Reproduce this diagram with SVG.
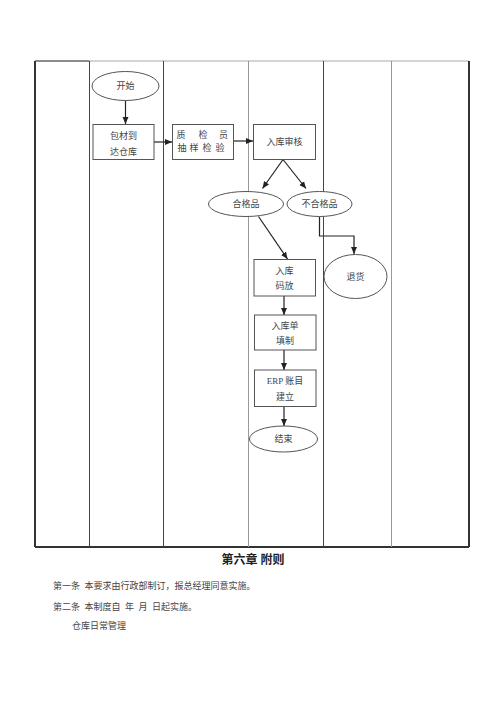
<svg xmlns="http://www.w3.org/2000/svg" width="500" height="707" viewBox="0 0 500 707">
<style>
text{font-family:"Liberation Serif","Noto Sans CJK SC",serif;fill:#444;font-size:9px;text-anchor:middle;dominant-baseline:central}
.node{fill:#fff;stroke:#555;stroke-width:1}
.col{stroke:#444;stroke-width:1}
.colg{stroke:#999;stroke-width:1}
.edge{fill:none;stroke:#222;stroke-width:1.2;marker-end:url(#ah)}
.para{text-anchor:start;font-size:9px;white-space:pre}
</style>
<defs>
<marker id="ah" markerWidth="8" markerHeight="8" refX="7" refY="4" orient="auto" markerUnits="userSpaceOnUse">
<path d="M0,1 L7,4 L0,7 Z" fill="#222"/>
</marker>
</defs>
<rect width="500" height="707" fill="#fff"/>
<g id="table">
<line x1="35" y1="61" x2="469" y2="61" stroke="#aaa" stroke-width="1.2"/>
<line x1="35" y1="61" x2="89" y2="61" stroke="#444" stroke-width="1.2"/>
<line x1="35" y1="61" x2="35" y2="547" stroke="#333" stroke-width="2"/>
<line x1="469" y1="61" x2="469" y2="547" stroke="#333" stroke-width="2"/>
<line x1="35" y1="547" x2="469" y2="547" stroke="#333" stroke-width="2"/>
<line class="col" x1="89.5" y1="61" x2="89.5" y2="547"/>
<line class="col" x1="163.5" y1="61" x2="163.5" y2="547"/>
<line class="colg" x1="248.5" y1="61" x2="248.5" y2="547"/>
<line class="col" x1="323.5" y1="61" x2="323.5" y2="547"/>
<line class="colg" x1="391.5" y1="61" x2="391.5" y2="547"/>
</g>
<g id="connectors">
<line class="edge" x1="125.5" y1="100.5" x2="125.5" y2="124"/>
<line class="edge" x1="154" y1="142" x2="172" y2="142"/>
<line class="edge" x1="234" y1="141" x2="253" y2="141"/>
<line class="edge" x1="283" y1="159.5" x2="262.5" y2="188.5"/>
<line class="edge" x1="283" y1="159.5" x2="306" y2="188.5"/>
<line class="edge" x1="258.5" y1="216.5" x2="287.5" y2="259"/>
<polyline class="edge" points="319.5,216.5 319.5,236 354,236 354,254"/>
<line class="edge" x1="284" y1="296" x2="284" y2="315"/>
<line class="edge" x1="284" y1="350" x2="284" y2="370"/>
<line class="edge" x1="284" y1="407" x2="284" y2="426"/>
</g>
<g id="start">
<ellipse class="node" cx="125.5" cy="86" rx="33.5" ry="14.5"/>
<text x="125.5" y="86">开始</text>
</g>
<g id="arrive">
<rect class="node" x="93" y="124.5" width="61" height="35"/>
<text x="123.5" y="136">包材到</text>
<text x="123.5" y="151.5">达仓库</text>
</g>
<g id="qc">
<rect class="node" x="172.5" y="124.5" width="61" height="35"/>
<text x="181" y="135">质</text><text x="203" y="135">检</text><text x="223.5" y="135">员</text>
<text x="182" y="147.5">抽</text><text x="194" y="147.5">样</text><text x="207" y="147.5">检</text><text x="220" y="147.5">验</text>
</g>
<g id="review">
<rect class="node" x="253.5" y="124.5" width="62" height="35"/>
<text x="284.5" y="141.5">入库审核</text>
</g>
<g id="pass">
<ellipse class="node" cx="246" cy="204" rx="37.5" ry="12.5"/>
<text x="246" y="204">合格品</text>
</g>
<g id="fail">
<ellipse class="node" cx="319.5" cy="204" rx="32.5" ry="12.5"/>
<text x="319.5" y="204">不合格品</text>
</g>
<g id="return">
<ellipse class="node" cx="355.5" cy="276.5" rx="31.5" ry="22"/>
<text x="355.5" y="277">退货</text>
</g>
<g id="stack">
<rect class="node" x="254" y="259.5" width="61.5" height="36.5"/>
<text x="284.5" y="270.5">入库</text>
<text x="284.5" y="285.5">码放</text>
</g>
<g id="form">
<rect class="node" x="254.5" y="315" width="61.5" height="35"/>
<text x="285" y="326">入库单</text>
<text x="285" y="341">填制</text>
</g>
<g id="erp">
<rect class="node" x="254.5" y="370" width="61.5" height="36.5"/>
<text x="285" y="381">ERP 账目</text>
<text x="285" y="396.5">建立</text>
</g>
<g id="end">
<ellipse class="node" cx="283.5" cy="439" rx="34" ry="13"/>
<text x="283.5" y="439">结束</text>
</g>
<g id="notes">
<text x="253" y="560" style="font-size:12px;font-weight:bold;fill:#222">第六章 附则</text>
<text class="para" x="53" y="585.5">第一条  本要求由行政部制订，报总经理同意实施。</text>
<text class="para" x="53" y="606.5">第二条  本制度自  年  月  日起实施。</text>
<text class="para" x="72" y="625.5">仓库日常管理</text>
</g>
</svg>
